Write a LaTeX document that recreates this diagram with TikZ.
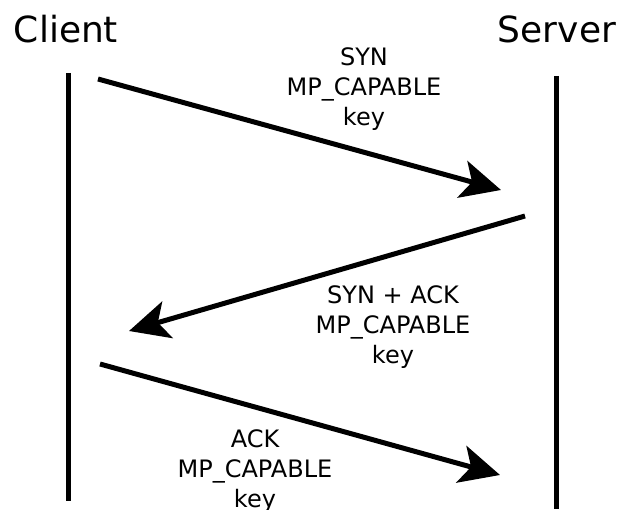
\documentclass[tikz,border=0pt]{standalone}
\usepackage{fontspec}
\setmainfont{DejaVu Sans}
\usetikzlibrary{arrows.meta}
\begin{document}
\begin{tikzpicture}[x=1pt,y=-1pt,
  title/.style={font=\fontsize{36}{40}\selectfont, inner sep=0pt},
  msg/.style={font=\fontsize{24}{30}\selectfont, align=center, inner sep=0pt},
  lifeline/.style={line width=5pt},
  message/.style={line width=5pt, -{Stealth[length=40pt,width=38pt,inset=10pt]}}]
  \useasboundingbox (0,0) rectangle (618,510);
  % participants
  \node[title] (client) at (66,29) {Client};
  \node[title] (server) at (557,29) {Server};
  % lifelines
  \coordinate (c-top) at (68,73);
  \coordinate (c-bot) at (68,501);
  \coordinate (s-top) at (556,76);
  \coordinate (s-bot) at (556,509);
  \draw[lifeline] (c-top) -- (c-bot);
  \draw[lifeline] (s-top) -- (s-bot);
  % message endpoints
  \coordinate (m1-start) at (98,79);
  \coordinate (m1-end) at (501,190);
  \coordinate (m2-start) at (525,216);
  \coordinate (m2-end) at (129,331);
  \coordinate (m3-start) at (100,364);
  \coordinate (m3-end) at (500,475);
  \draw[message] (m1-start) -- (m1-end);
  \draw[message] (m2-start) -- (m2-end);
  \draw[message] (m3-start) -- (m3-end);
  % message labels
  \node[msg] (l1) at (364,89) {SYN\\MP\_CAPABLE\\key};
  \node[msg] (l2) at (393,327) {SYN + ACK\\MP\_CAPABLE\\key};
  \node[msg] (l3) at (255,471) {ACK\\MP\_CAPABLE\\key};
\end{tikzpicture}
\end{document}
